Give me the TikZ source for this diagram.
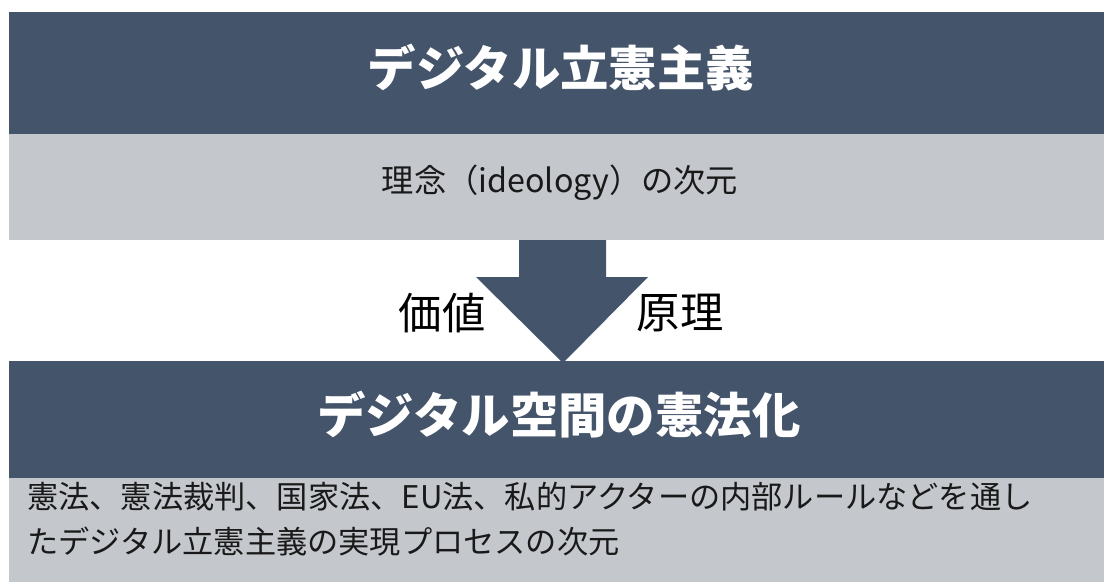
\documentclass[tikz,border=0pt]{standalone}
\usepackage{fontspec}
\newfontfamily\jp{Noto Sans CJK JP}
\definecolor{darkbar}{RGB}{68,84,106}
\definecolor{lightbar}{RGB}{196,199,204}
\definecolor{ink}{RGB}{25,25,25}
\begin{document}
\begin{tikzpicture}[x=0.75pt,y=-0.75pt,
  darkbox/.style={fill=darkbar,draw=none},
  lightbox/.style={fill=lightbar,draw=none},
  titletext/.style={text=white,font=\jp\bfseries\fontsize{36.3}{40}\selectfont,inner sep=0pt},
  subtext/.style={text=ink,font=\jp\fontsize{23.4}{33.75}\selectfont,inner sep=0pt},
  labeltext/.style={text=black,font=\jp\fontsize{32.5}{36}\selectfont,inner sep=0pt}]
\useasboundingbox[fill=white] (0,0) rectangle (1104,582);
% boxes
\fill[darkbox] (9,12) rectangle (1104,134);
\fill[lightbox] (9,134) rectangle (1104,240);
\fill[darkbox] (9,361) rectangle (1104,478);
\fill[lightbox] (9,478) rectangle (1104,582);
% arrow
\fill[darkbar] (519,240) -- (606,240) -- (606,277) -- (648,277) -- (563,363) -- (476,277) -- (519,277) -- cycle;
% texts
\node[titletext] (t1) at (561,68) {デジタル立憲主義};
\node[subtext,font=\jp\fontsize{24.2}{30}\selectfont] (s1) at (560,183) {理念（ideology）の次元};
\node[labeltext] (v) at (442,313) {価値};
\node[labeltext] (p) at (680,313) {原理};
\node[titletext] (t2) at (559,415) {デジタル空間の憲法化};
\node[subtext,anchor=north west,align=left] (s2) at (27,482) {憲法、憲法裁判、国家法、EU法、私的アクターの内部ルールなどを通し\\たデジタル立憲主義の実現プロセスの次元};
\end{tikzpicture}
\end{document}
